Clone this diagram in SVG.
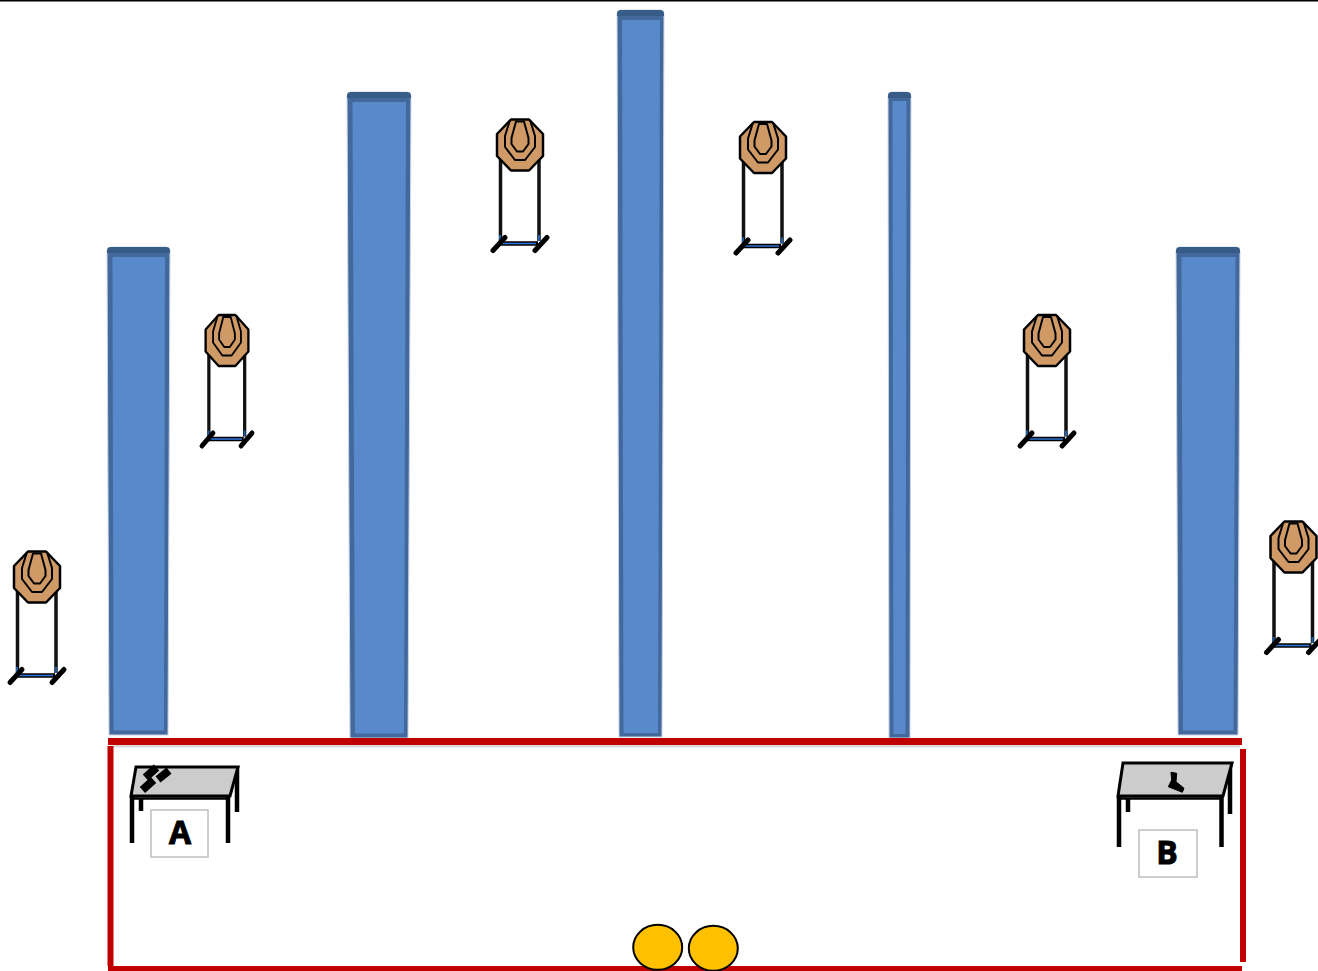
<svg xmlns="http://www.w3.org/2000/svg" width="1318" height="971" viewBox="0 0 1318 971">
<style>
.edge{fill:#43699C;stroke:#c9d5e6;stroke-width:1}
.cap{fill:#385C88}
.face{fill:#5889CB}
.red{fill:#C00000}
.shadow{fill:#d9d9d9}
.ink{fill:none;stroke:#000;stroke-linejoin:round}
.post{fill:none;stroke:#111;stroke-width:3.500}
.foot{fill:none;stroke:#000;stroke-width:5;stroke-linecap:round}
.top{fill:#CCCCCC;stroke:#000;stroke-width:3;stroke-linejoin:miter}
.leg{fill:none;stroke:#000;stroke-width:4.500}
.box{fill:#fff;stroke:#BFBFBF;stroke-width:1.500}
.label{font-family:"Open Sans","Liberation Sans",sans-serif;font-weight:700;font-size:32px;fill:#000;stroke:#000;stroke-width:1;text-anchor:middle}
.spot{fill:#FFC000;stroke:#000;stroke-width:2}
</style>
<defs>
<g id="target">
<path class="post" d="M-19.500 8V96M19 8V96"/>
<path d="M-20 98.500H18" fill="none" stroke="#000" stroke-width="4.500"/>
<path d="M-18 98.500H16" fill="none" stroke="#2E75D6" stroke-width="1.600"/>
<path d="M-20 90V96M19 90V96" fill="none" stroke="#1F5FA8" stroke-width="2"/>
<path class="foot" d="M-27 105.500L-15 92.500M15 105.500L27 92.500"/>
<path d="M-9 -25.500H9L23 -11V11L9 25.500H-9L-23 11V-11Z" fill="#CF9A66" stroke="#000" stroke-width="2.500" stroke-linejoin="round"/>
<path class="ink" stroke-width="2" d="M-10 -25L-15 -9V2L-5 15H5L15 2V-9L10 -25"/>
<path class="ink" stroke-width="2" d="M-4 -23.500H4L8.500 -7V-1L3 6.500H-3L-8.500 -1V-7Z"/>
</g>
</defs>
<rect width="1318" height="971" fill="#fff"/>
<rect x="0" y="0" width="1318" height="1.500" fill="#000"/>
<g id="wall-1"><path class="edge" d="M107 251Q107 247 111 247H166Q170 247 170 251L168 735H109Z"/><path class="cap" d="M107 251Q107 247 111 247H166Q170 247 170 251V253H107Z"/><path class="face" d="M112.500 257H165L164 730.500H113.500Z"/></g>
<g id="wall-2"><path class="edge" d="M347 96Q347 92 351 92H407Q411 92 411 96L408 738H350Z"/><path class="cap" d="M347 96Q347 92 351 92H407Q411 92 411 96V98H347Z"/><path class="face" d="M352.500 102H406L404 733.500H355Z"/></g>
<g id="wall-3"><path class="edge" d="M617 14Q617 10 621 10H660Q664 10 664 14V16H664L662 737H619Z"/><path class="cap" d="M617 14Q617 10 621 10H660Q664 10 664 14V16H617Z"/><path class="face" d="M622 20H660L658 733H623.500Z"/></g>
<g id="wall-4"><path class="edge" d="M888 96Q888 92 892 92H907Q911 92 911 96L910 738H889Z"/><path class="cap" d="M888 96Q888 92 892 92H907Q911 92 911 96V98H888Z"/><path class="face" d="M892.500 101H906.500L905.500 734H893.500Z"/></g>
<g id="wall-5"><path class="edge" d="M1176 251Q1176 247 1180 247H1236Q1240 247 1240 251L1238 735H1178Z"/><path class="cap" d="M1176 251Q1176 247 1180 247H1236Q1240 247 1240 251V253H1176Z"/><path class="face" d="M1181.500 257H1235.500L1233.500 730.500H1183Z"/></g>
<g id="target-1"><use href="#target" transform="translate(37 577)"/></g>
<g id="target-2"><use href="#target" transform="translate(227 340.500) scale(.93 1)"/></g>
<g id="target-3"><use href="#target" transform="translate(520 145)"/></g>
<g id="target-4"><use href="#target" transform="translate(763 147.500)"/></g>
<g id="target-5"><use href="#target" transform="translate(1047 340.500)"/></g>
<g id="target-6"><use href="#target" transform="translate(1293.500 547)"/></g>
<g id="bay">
<rect class="shadow" x="113" y="745" width="1127" height="2.500"/>
<rect class="red" x="108" y="738" width="1134" height="7"/>
<rect class="red" x="107.500" y="746" width="6" height="220"/>
<rect class="red" x="1240" y="749" width="6" height="213"/>
<rect class="red" x="108" y="966" width="1134" height="5"/>
</g>
<g id="table-a">
<path class="leg" d="M132 797V843M228 797V843M141 799V811M237 766V812"/>
<path class="top" d="M136 767H238L230 796H131Z"/>
<path d="M131 798.500H230" fill="none" stroke="#000" stroke-width="2.500"/>
<g fill="#000"><rect x="143.500" y="768.500" width="15" height="8" transform="rotate(-42 151 772.500)"/><rect x="156.500" y="771" width="14" height="8" transform="rotate(-38 163.500 775)"/><rect x="140.500" y="781" width="15" height="8" transform="rotate(-42 148 785)"/></g>
<rect class="box" x="151" y="810" width="57" height="47"/>
<text class="label" x="180" y="844">A</text>
</g>
<g id="table-b">
<path class="leg" d="M1119 797V847M1221.500 797V847M1128 799V812M1230 763V814"/>
<path class="top" d="M1123 763H1232L1223 796H1118Z"/>
<path d="M1117 798.500H1223" fill="none" stroke="#000" stroke-width="2.500"/>
<path fill="#000" stroke="#000" stroke-linejoin="round" d="M1171 772.300L1176.700 773.300L1176 781.700L1184 788.300L1182.300 792.300L1168.300 786.700L1171.700 780Z"/>
<rect class="box" x="1139" y="830" width="58" height="47"/>
<text class="label" x="1167" y="864">B</text>
</g>
<g id="spot-1"><ellipse class="spot" cx="657.700" cy="947.300" rx="24.500" ry="22.500"/></g>
<g id="spot-2"><ellipse class="spot" cx="713.300" cy="948.300" rx="24.500" ry="22.500"/></g>
</svg>
